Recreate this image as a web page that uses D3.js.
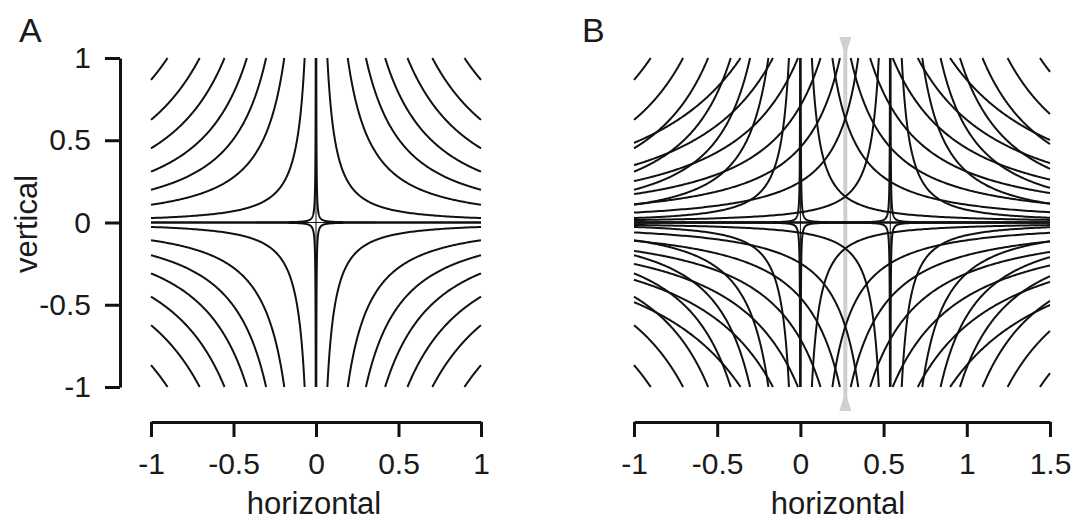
<!DOCTYPE html>
<html>
<head>
<meta charset="utf-8">
<script src="https://cdn.jsdelivr.net/npm/d3@7"></script>
<style>
  body { margin: 0; background: #fff; }
  text { font-family: "Liberation Sans", Arial, sans-serif; fill: #1a1a1a; }
</style>
</head>
<body>
<div id="svganchor"></div>
<script>
let width = 1079;
let height = 525;

// curve constants (value of |y| where each curve meets |x - centre| = 1)
const kValues = [0.867, 0.624, 0.451, 0.309, 0.199, 0.108, 0.027, 0.0002];
const exponent = 1.35;
const centersA = [0];
const centersB = [0, 0.54];
const markerB = 0.27;
const xTicksA = [-1, -0.5, 0, 0.5, 1];
const xTicksB = [-1, -0.5, 0, 0.5, 1, 1.5];
const yTicks = [-1, -0.5, 0, 0.5, 1];

let svg = d3.select("#svganchor").append("svg").attr("width", width).attr("height", height);

let yScale = d3.scaleLinear().domain([-1, 1]).range([387, 58]);
let xScaleA = d3.scaleLinear().domain([-1, 1]).range([151, 481]);
let xScaleB = d3.scaleLinear().domain([-1, 1.5]).range([634, 1050]);

function curvePoints(c, k, sx, sy, xmin, xmax) {
  let uMax = sx > 0 ? xmax - c : c - xmin;
  let uMin = Math.pow(k, 1 / exponent);
  let pts = [];
  if (uMin >= uMax) return pts;
  let n = 160;
  for (let i = 0; i <= n; i++) {
    let u = uMin * Math.pow(uMax / uMin, i / n);
    pts.push([c + sx * u, sy * k / Math.pow(u, exponent)]);
  }
  return pts;
}

function drawPanel(xScale, centers) {
  let g = svg.append("g");
  let [xmin, xmax] = xScale.domain();
  let line = d3.line().x(d => xScale(d[0])).y(d => yScale(d[1]));

  // zero lines through each centre
  g.append("line")
    .attr("x1", xScale(xmin)).attr("x2", xScale(xmax))
    .attr("y1", yScale(0)).attr("y2", yScale(0))
    .attr("stroke", "#111").attr("stroke-width", 1);
  centers.forEach(c => {
    g.append("line")
      .attr("x1", xScale(c)).attr("x2", xScale(c))
      .attr("y1", yScale(-1)).attr("y2", yScale(1))
      .attr("stroke", "#111").attr("stroke-width", 1);
  });

  let curves = [];
  centers.forEach(c => {
    kValues.forEach(k => {
      [-1, 1].forEach(sx => {
        [-1, 1].forEach(sy => {
          let pts = curvePoints(c, k, sx, sy, xmin, xmax);
          if (pts.length) curves.push(pts);
        });
      });
    });
  });

  g.selectAll(".curve").data(curves).enter()
    .append("path")
    .attr("class", "curve")
    .attr("d", line)
    .attr("fill", "none")
    .attr("stroke", "#111")
    .attr("stroke-width", 2);
  return g;
}

function styleAxis(g) {
  g.select(".domain").attr("stroke", "#111").attr("stroke-width", 3);
  g.selectAll(".tick line").attr("stroke", "#111").attr("stroke-width", 3);
  g.selectAll(".tick text").style("font-size", "30px").attr("fill", "#1a1a1a");
}

// gray marker in panel B sits behind the curves
let mx = xScaleB(markerB);
svg.append("line")
  .attr("x1", mx).attr("x2", mx)
  .attr("y1", yScale(1) - 21).attr("y2", yScale(-1) + 24)
  .attr("stroke", "#cfcfcf").attr("stroke-width", 4);
svg.append("path")
  .attr("d", `M${mx - 6},${yScale(1) - 21}L${mx + 6},${yScale(1) - 21}L${mx},${yScale(1) - 2}Z`)
  .attr("fill", "#cfcfcf");
svg.append("path")
  .attr("d", `M${mx - 6},${yScale(-1) + 24}L${mx + 6},${yScale(-1) + 24}L${mx},${yScale(-1) + 5}Z`)
  .attr("fill", "#cfcfcf");

drawPanel(xScaleA, centersA);
drawPanel(xScaleB, centersB);

let fmt = d => d3.format("")(d).replace("−", "-");

// y axis, panel A only
let yAxis = svg.append("g").attr("transform", "translate(120,0)")
  .call(d3.axisLeft(yScale).tickValues(yTicks).tickSize(15).tickSizeOuter(0).tickPadding(14).tickFormat(fmt));
styleAxis(yAxis);

// x axes
let xAxisA = svg.append("g").attr("transform", "translate(0,422)")
  .call(d3.axisBottom(xScaleA).tickValues(xTicksA).tickSize(15).tickSizeOuter(0).tickPadding(16).tickFormat(fmt));
styleAxis(xAxisA);

let xAxisB = svg.append("g").attr("transform", "translate(0,422)")
  .call(d3.axisBottom(xScaleB).tickValues(xTicksB).tickSize(15).tickSizeOuter(0).tickPadding(16).tickFormat(fmt));
styleAxis(xAxisB);

// titles
let titles = [
  { text: "horizontal", x: 314, y: 514 },
  { text: "horizontal", x: 838, y: 514 },
];
titles.forEach(t => {
  svg.append("text")
    .attr("x", t.x).attr("y", t.y)
    .attr("text-anchor", "middle")
    .style("font-size", "31px")
    .text(t.text);
});
svg.append("text")
  .attr("transform", "translate(37,224) rotate(-90)")
  .attr("text-anchor", "middle")
  .style("font-size", "31px")
  .text("vertical");

svg.append("text").attr("x", 19).attr("y", 42).style("font-size", "34px").text("A");
svg.append("text").attr("x", 582).attr("y", 42).style("font-size", "34px").text("B");
</script>
</body>
</html>
